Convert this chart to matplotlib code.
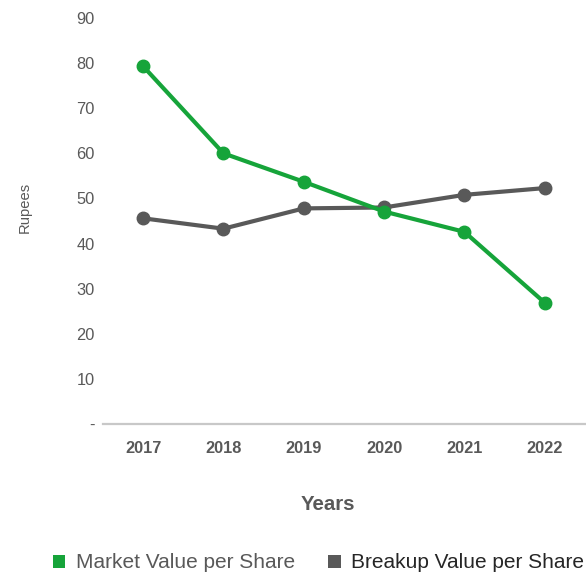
import matplotlib
matplotlib.use("Agg")
import matplotlib.pyplot as plt
from matplotlib.patches import Patch

plt.rcParams['font.family'] = ['Liberation Sans', 'DejaVu Sans']

years = ["2017", "2018", "2019", "2020", "2021", "2022"]
market_value = [79.3, 60.0, 53.7, 47.1, 42.6, 26.9]
breakup_value = [45.6, 43.3, 47.8, 48.0, 50.8, 52.3]
y_ticks = [0, 10, 20, 30, 40, 50, 60, 70, 80, 90]
y_tick_labels = ["-", "10", "20", "30", "40", "50", "60", "70", "80", "90"]

green = "#16a43a"
grey = "#595959"
text_grey = "#595959"

fig = plt.figure(figsize=(5.86, 5.72), dpi=100)
ax = fig.add_axes([0.1758, 0.2587, 0.8222, 0.7098])

x = list(range(len(years)))
ax.plot(x, breakup_value, color=grey, lw=3.0, marker='o', ms=9, zorder=3,
        solid_capstyle='round', clip_on=False)
ax.plot(x, market_value, color=green, lw=3.0, marker='o', ms=9, zorder=4,
        solid_capstyle='round', clip_on=False)

ax.set_xlim(-0.5, len(years) - 0.5)
ax.set_ylim(0, 90)
ax.set_xticks(x)
ax.set_xticklabels(years, fontweight='bold', fontsize=11.8, color=text_grey)
ax.set_yticks(y_ticks)
ax.set_yticklabels(y_tick_labels, fontsize=11.8, color=text_grey)
ax.tick_params(axis='both', length=0)
ax.tick_params(axis='x', pad=12)
ax.tick_params(axis='y', pad=6)

for s in ['top', 'right', 'left']:
    ax.spines[s].set_visible(False)
ax.spines['bottom'].set_color('#c8c8c8')
ax.spines['bottom'].set_linewidth(1.6)

fig.text(25 / 586, 1 - 207 / 572, "Rupees", rotation=90, ha='center', va='center',
         fontsize=10.6, color=text_grey)
fig.text(328 / 586, 1 - 505 / 572, "Years", ha='center', va='center',
         fontsize=14.7, fontweight='bold', color=text_grey)

handles = [Patch(facecolor=green, edgecolor='none'),
           Patch(facecolor=grey, edgecolor='none')]
leg = fig.legend(handles, ["Market Value per Share", "Breakup Value per Share"],
                 loc='center', bbox_to_anchor=(318.5 / 586, 1 - 563 / 572), ncol=2,
                 frameon=False, fontsize=15, handlelength=0.6, handleheight=0.6,
                 handletextpad=0.5, columnspacing=1.6, borderpad=0, borderaxespad=0)
texts = leg.get_texts()
texts[0].set_color(text_grey)
texts[1].set_color("#262626")

fig.savefig("out.png", dpi=100)
